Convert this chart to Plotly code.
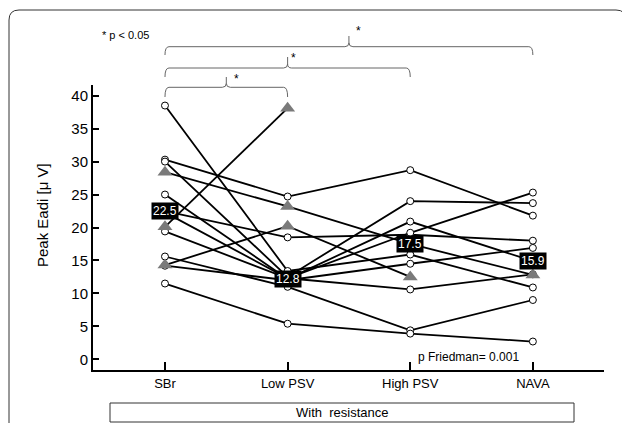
import plotly.graph_objects as go

# ---------------- data ----------------
categories = ["SBr", "Low PSV", "High PSV", "NAVA"]

# one list per subject: SBr, Low PSV, High PSV, NAVA (None = missing)
s01 = [38.5, 13.4, 15.9, 10.9]
s02 = [30.3, 24.7, 28.7, 21.8]
s03 = [30.0, 12.5, 24.0, 23.7]
s04 = [28.4, 23.2, 17.5, 12.8]
s05 = [25.0, 12.2, 20.9, 14.9]
s06 = [22.5, 18.5, 18.9, 18.0]
s07 = [20.1, 38.1, None, None]
s08 = [19.4, 12.3, 19.2, 25.3]
s09 = [15.6, 11.0, 4.4, 9.0]
s10 = [14.3, 20.2, 12.5, None]
s11 = [14.2, 12.0, 14.5, 16.9]
s12 = [11.5, 5.4, 3.9, 2.7]
s13 = [22.3, 12.3, 10.6, 12.9]

subjects = [s01, s02, s03, s04, s05, s06, s07, s08, s09, s10, s11, s12, s13]
triangle_subject = [False, False, False, True, False, False, True, False, False, True, False, False, False]

medians = [22.5, 12.8, 17.5, 15.9]
median_labels = ["22.5", "12.8", "17.5", "15.9"]

yticks = [0, 5, 10, 15, 20, 25, 30, 35, 40]
comparisons = [(0, 3), (0, 2), (0, 1)]   # significant pairs

# ---------------- geometry (page has an 8px body margin) ----------------
OFF = 8
W, H = 630 - OFF, 423 - OFF
PL, PR, PT, PB = 93, 604, 85, 370          # plot area in window pixels
L, T = PL - OFF, PT - OFF
R, B = W - (PR - OFF), H - (PB - OFF)
PW, PH = PR - PL, PB - PT


def px(xp):
    return (xp - PL) / PW


def py(yp):
    return (PB - yp) / PH


FONT = "Liberation Sans, Arial"
xidx = list(range(len(categories)))

fig = go.Figure()

# lines
for vals in subjects:
    fig.add_trace(go.Scatter(x=xidx, y=vals, mode="lines",
                             line=dict(color="black", width=1.8),
                             connectgaps=False, hoverinfo="skip", showlegend=False))

# markers
cx, cy, tx, ty = [], [], [], []
for vals, tri in zip(subjects, triangle_subject):
    for i, v in enumerate(vals):
        if v is None:
            continue
        if tri:
            tx.append(i); ty.append(v)
        else:
            cx.append(i); cy.append(v)

fig.add_trace(go.Scatter(x=cx, y=cy, mode="markers",
                         marker=dict(symbol="circle", size=7, color="white",
                                     line=dict(color="black", width=1)),
                         showlegend=False))
fig.add_trace(go.Scatter(x=tx, y=ty, mode="markers",
                         marker=dict(symbol="triangle-up", size=13, color="#7a7a7a",
                                     line=dict(width=0)),
                         showlegend=False))

# median labels
label_shift = [0, -4, 0, -6]
for i, (m, t) in enumerate(zip(medians, median_labels)):
    fig.add_annotation(x=i, y=m, text=t, showarrow=False, yshift=label_shift[i],
                       xanchor="center", yanchor="middle",
                       font=dict(family=FONT, size=12, color="white"),
                       bgcolor="black", borderpad=1)

shapes = []
# significance brackets
bracket_px = [(46.7, 55, 36), (68, 77, 57), (87.3, 97, 77)]
star_px = [(358, 31), (293, 58), (236, 79)]
dx = 4 / 122.6
for (a, b), (yh, ye, yn), (sx, sy) in zip(comparisons, bracket_px, star_px):
    m = (a + b) / 2
    yh_, ye_, yn_ = py(yh), py(ye), py(yn)
    ymid = py(yh - 4)
    path = (f"M {a},{ye_} Q {a},{yh_} {a+dx},{yh_} L {m-dx},{yh_} "
            f"Q {m},{yh_} {m},{ymid} L {m},{yn_} M {m},{ymid} Q {m},{yh_} {m+dx},{yh_} "
            f"L {b-dx},{yh_} Q {b},{yh_} {b},{ye_}")
    shapes.append(dict(type="path", path=path, xref="x", yref="paper",
                       line=dict(color="#666666", width=1)))
    fig.add_annotation(x=px(sx), y=py(sy), xref="paper", yref="paper", text="*",
                       xanchor="center", yanchor="middle", showarrow=False,
                       font=dict(family=FONT, size=12, color="black"))

# outer rounded frame
x0, x1, y0, y1, r = px(9), px(626), py(10), py(445), 10
rx, ry = r / PW, r / PH
frame = (f"M {x0},{y1} L {x0},{y0-ry} Q {x0},{y0} {x0+rx},{y0} L {x1-rx},{y0} "
         f"Q {x1},{y0} {x1},{y0-ry} L {x1},{y1}")
shapes.append(dict(type="path", path=frame, xref="paper", yref="paper",
                   line=dict(color="#333333", width=1)))

# "With resistance" box
shapes.append(dict(type="rect", xref="paper", yref="paper",
                   x0=px(110), x1=px(574), y0=py(403), y1=py(422),
                   line=dict(color="#333333", width=1)))

texts = [
    ("With  resistance", 342, 412, 13, 0),
    ("* p < 0.05", 125, 35, 11, 0),
    ("p Friedman= 0.001", 468, 357, 12, 0),
    ("Peak Eadi [\u03bc V]", 42, 215, 15, -90),
]
for txt, xx, yy, fs, ang in texts:
    fig.add_annotation(x=px(xx), y=py(yy), xref="paper", yref="paper", text=txt,
                       xanchor="center", yanchor="middle", textangle=ang, showarrow=False,
                       font=dict(family=FONT, size=fs, color="black"))

fig.update_layout(
    width=W, height=H,
    margin=dict(l=L, r=R, t=T, b=B),
    paper_bgcolor="white", plot_bgcolor="white",
    shapes=shapes,
    font=dict(family=FONT, color="black"),
    xaxis=dict(range=[-0.587, 3.58], tickvals=xidx, ticktext=categories,
               showgrid=False, zeroline=False, showline=True, linecolor="black", linewidth=2,
               ticks="inside", ticklen=8, tickwidth=1.5, tickcolor="black",
               tickfont=dict(size=13), fixedrange=True),
    yaxis=dict(range=[-1.62, 41.62], tickvals=yticks,
               showgrid=False, zeroline=False, showline=True, linecolor="black", linewidth=2,
               ticks="inside", ticklen=6, tickwidth=1.5, tickcolor="black",
               tickfont=dict(size=15), fixedrange=True),
)

fig.write_html("out.html")
